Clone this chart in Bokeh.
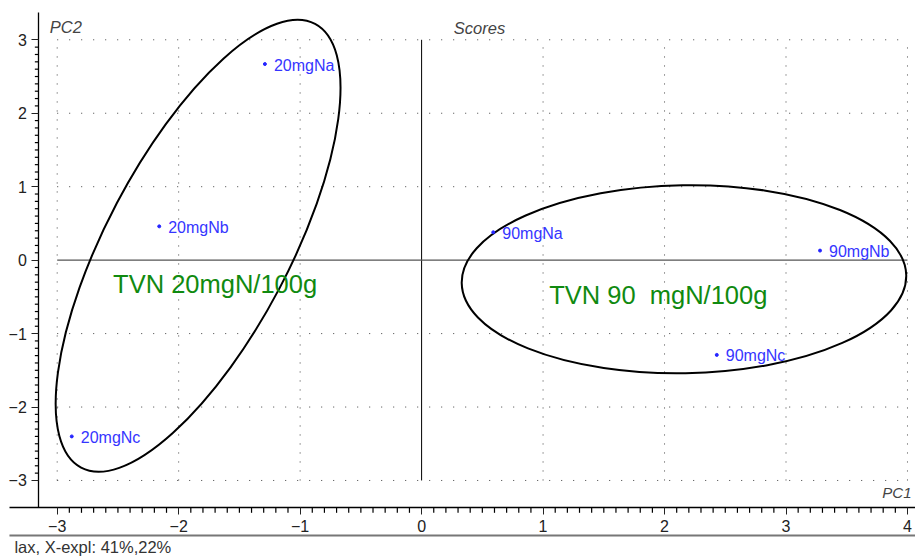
from bokeh.plotting import figure
from bokeh.models import Range1d, LinearAxis, SingleIntervalTicker, Label, ColumnDataSource
from bokeh.core.properties import value
from bokeh.embed import file_html
from bokeh.resources import INLINE

# PCA scores (PC1, PC2) of the six fish samples
sample_names = ["20mgNa", "20mgNb", "20mgNc", "90mgNa", "90mgNb", "90mgNc"]
pc1_scores = [-1.29, -2.16, -2.88, 0.59, 3.28, 2.43]
pc2_scores = [2.67, 0.46, -2.40, 0.38, 0.13, -1.29]

# axis ticks
x_ticks = [-3, -2, -1, 0, 1, 2, 3, 4]
y_ticks = [-3, -2, -1, 0, 1, 2, 3]

# group annotations and the ellipses that enclose each TVN group
group_labels = ["TVN 20mgN/100g", "TVN 90 \u00a0mgN/100g"]
group_label_x = [-2.54, 1.05]
group_label_y = [-0.33, -0.47]
ellipse_x = [-1.84, 2.16]
ellipse_y = [0.195, -0.26]
ellipse_w = [4.13, 3.66]
ellipse_h = [2.50, 2.56]
ellipse_angle_deg = [62.2, 1.0]

FONT = "Liberation Sans"
W, H = 915, 556
X_START, X_END = -3.4667, 4.066
Y_START, Y_END = -4.035, 3.535

p = figure(width=W, height=H, output_backend="svg", toolbar_location=None,
           x_axis_type=None, y_axis_type=None,
           x_range=Range1d(X_START, X_END), y_range=Range1d(Y_START, Y_END),
           min_border=0, min_border_left=0, min_border_right=0,
           min_border_top=0, min_border_bottom=0)
p.outline_line_color = None
p.background_fill_color = "white"
p.border_fill_color = "white"

# data units per screen pixel
PX_X = (X_END - X_START) / W
PX_Y = (Y_END - Y_START) / H

x_lo, x_hi = x_ticks[0], x_ticks[-1]
y_lo, y_hi = y_ticks[0], y_ticks[-1]

# dotted grid, only inside the tick span
gx = [t for t in x_ticks if t != 0]
gy = [t for t in y_ticks if t != 0]
p.segment(x0=gx, y0=[y_lo] * len(gx), x1=gx, y1=[y_hi] * len(gx),
          line_color="#444444", line_width=1, line_dash="1 8")
p.segment(x0=[x_lo] * len(gy), y0=gy, x1=[x_hi] * len(gy), y1=gy,
          line_color="#444444", line_width=1, line_dash="1 11")

# zero lines
p.segment(x0=[0], y0=[y_lo], x1=[0], y1=[y_hi], line_color="black", line_width=1)
p.segment(x0=[x_lo], y0=[0], x1=[x_hi], y1=[0], line_color="#555555", line_width=1.3)

# axes placed inside the canvas: a long bare axis line plus labelled unit ticks
X_AXIS_AT, Y_AXIS_AT = -3.372, -3.151


def axis_layer(loc, bounds, tick_len, labels, line):
    ax = LinearAxis(fixed_location=loc, bounds=bounds,
                    ticker=SingleIntervalTicker(interval=1, num_minor_ticks=0))
    ax.axis_line_color = "black" if line else None
    ax.axis_line_width = 1.3
    ax.major_tick_line_color = "#222222" if tick_len else None
    ax.major_tick_line_width = 1
    ax.minor_tick_line_color = None
    ax.major_tick_in = 0
    ax.major_tick_out = tick_len
    ax.major_label_standoff = 5
    ax.major_label_text_font = FONT
    ax.major_label_text_font_size = "16px"
    ax.major_label_text_color = "#222222" if labels else None
    if hasattr(ax, "background_fill_color"):
        ax.background_fill_color = None
    return ax


for side, loc, long_bounds, span in [("below", X_AXIS_AT, (-3.393, 4.07), (x_lo, x_hi)),
                                     ("left", Y_AXIS_AT, (X_AXIS_AT, 3.376), (y_lo, y_hi))]:
    p.add_layout(axis_layer(loc, long_bounds, 0, False, True), side)
    p.add_layout(axis_layer(loc, span, 7, True, False), side)


# minor tick comb: ten steps per unit between the labelled ticks,
# drawn on the overlay level so it sits on top of the axes
def minor(ticks):
    out = []
    for a, b in zip(ticks[:-1], ticks[1:]):
        out += [a + (b - a) * k / 10 for k in range(1, 10)]
    return out


mx, my = minor(x_ticks), minor(y_ticks)
p.segment(x0=mx, y0=[X_AXIS_AT] * len(mx), x1=mx,
          y1=[X_AXIS_AT - 5 * PX_Y] * len(mx),
          line_color="black", line_width=1.2, level="overlay")
p.segment(x0=[Y_AXIS_AT] * len(my), y0=my,
          x1=[Y_AXIS_AT - 4 * PX_X] * len(my), y1=my,
          line_color="black", line_width=1.2, level="overlay")

# lower rule and footer
p.segment(x0=[-3.393], y0=[-3.749], x1=[4.07], y1=[-3.749],
          line_color="#777777", line_width=2)
p.add_layout(Label(x=-3.352, y=-3.899, text="lax, X-expl: 41%,22%",
                   text_font=FONT, text_font_size="16.5px", text_color="#333333",
                   text_baseline="middle", text_align="left"))

# axis names and title
for txt, x, y, align, size in [("PC2", -3.061, 3.181, "left", "16.5px"),
                               ("Scores", 0.265, 3.167, "left", "16.5px"),
                               ("PC1", 4.033, -3.170, "right", "15px")]:
    p.add_layout(Label(x=x, y=y, text=txt, text_font=FONT, text_font_size=size,
                       text_font_style="italic", text_color="#444444",
                       text_baseline="middle", text_align=align))

# group ellipses
ell = ColumnDataSource(dict(x=ellipse_x, y=ellipse_y, w=ellipse_w, h=ellipse_h,
                            a=[d * 3.141592653589793 / 180 for d in ellipse_angle_deg]))
p.ellipse(x="x", y="y", width="w", height="h", angle="a", source=ell,
          fill_color=None, line_color="black", line_width=2)

# scores
src = ColumnDataSource(dict(x=pc1_scores, y=pc2_scores, name=sample_names))
p.scatter(x="x", y="y", source=src, size=3, marker="circle",
          fill_color="#2525ff", line_color="#2525ff")
p.text(x="x", y="y", text="name", source=src, x_offset=9, y_offset=1,
       text_font=value(FONT), text_font_size="16px", text_color="#3535ff",
       text_baseline="middle", text_align="left")

# group names
gsrc = ColumnDataSource(dict(x=group_label_x, y=group_label_y, t=group_labels))
p.text(x="x", y="y", text="t", source=gsrc, text_font=value(FONT),
       text_font_size="25.5px", text_color="#108a10",
       text_baseline="middle", text_align="left")

open("out.html", "w").write(file_html(p, INLINE))
